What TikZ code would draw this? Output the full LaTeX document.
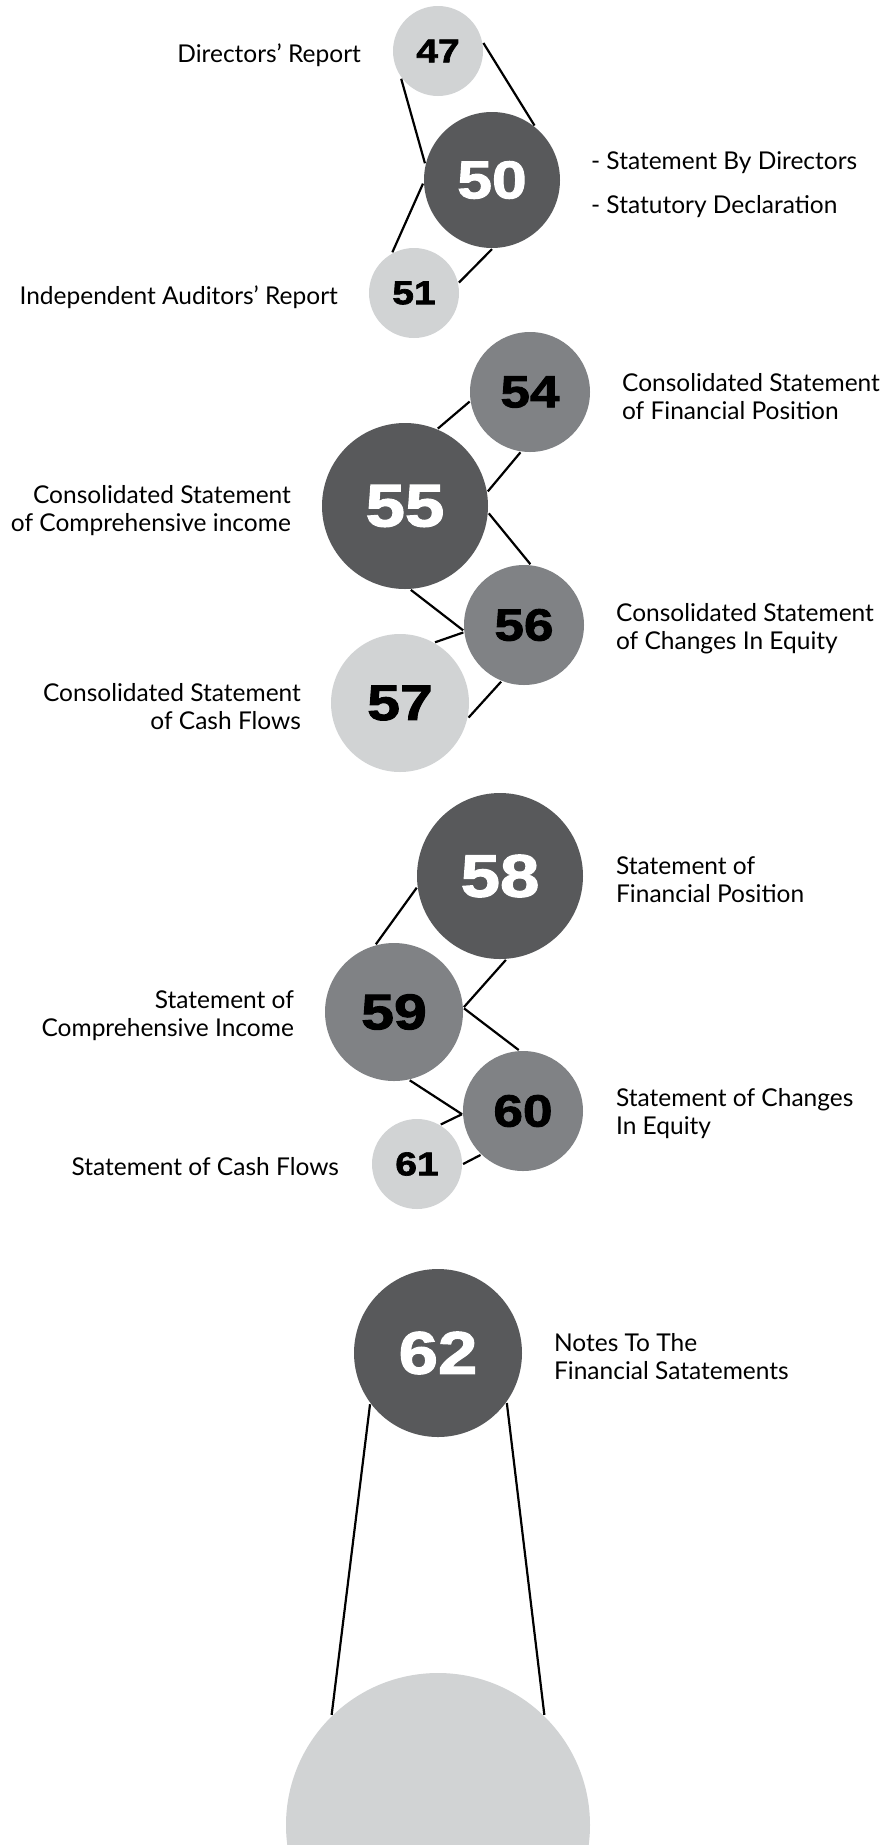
\documentclass[tikz,border=0pt]{standalone}
\usepackage{fontspec}
\setmainfont{Lato}
\newfontfamily\numfont{Liberation Sans Bold}[FakeBold=2, FakeStretch=1.18]
\usetikzlibrary{positioning}

\definecolor{discpale}{HTML}{D1D3D4}
\definecolor{discmid}{HTML}{808285}
\definecolor{discdark}{HTML}{58595B}

\begin{document}
\begin{tikzpicture}[x=1pt, y=-1pt, line width=2.2pt,
  pale/.style={circle, fill=discpale, text=black, inner sep=0pt},
  mid/.style={circle, fill=discmid, text=black, inner sep=0pt},
  dark/.style={circle, fill=discdark, text=white, inner sep=0pt},
  sz/.style={minimum size=#1pt},
  num/.style={font=\numfont\fontsize{#1}{#1}\selectfont},
  lbl/.style={inner sep=0pt, font=\fontsize{24.5}{28}\selectfont}]
\useasboundingbox (0,0) rectangle (885,1845);
\clip (0,0) rectangle (885,1845);

% discs
\node[pale, sz=90, num=33] (P47) at (438,51) {47};
\node[dark, sz=136, num=53] (P50) at (492,180) {50};
\node[pale, sz=90, num=33] (P51) at (414,293) {51};
\node[mid, sz=120, num=45] (P54) at (530,392) {54};
\node[dark, sz=166, num=60] (P55) at (405,506) {55};
\node[mid, sz=120, num=45] (P56) at (524,625) {56};
\node[pale, sz=138, num=50] (P57) at (400,703) {57};
\node[dark, sz=166, num=60] (P58) at (500,876) {58};
\node[mid, sz=138, num=50] (P59) at (394,1012) {59};
\node[mid, sz=120, num=45] (P60) at (523,1111) {60};
\node[pale, sz=90, num=33] (P61) at (417,1164) {61};
\node[dark, sz=168, num=60] (P62) at (438,1353) {62};
\node[pale, sz=304] (Pend) at (438,1825) {};

% links
\draw (P47.10) -- (P50.52);
\draw (P47.217) -- (P50.166);
\draw (P50.183) -- (P51.118);
\draw (P50.270) -- (P51.13);
\draw (P54.189) -- (P55.67);
\draw (P55.10) -- (P54.261);
\draw (P55.-5) -- (P56.84);
\draw (P55.274) -- (P56.185);
\draw (P56.187) -- (P57.60);
\draw (P56.248) -- (P57.-12);
\draw (P58.188) -- (P59.105);
\draw (P58.274) -- (P59.4);
\draw (P59.3) -- (P60.94);
\draw (P59.283) -- (P60.183);
\draw (P60.183) -- (P61.59);
\draw (P60.226) -- (P61.0);
\draw (P62.217) -- (Pend.134);
\draw (P62.324) -- (Pend.46);

% labels
\node[lbl, anchor=east] (L47) at (362,55) {Directors’ Report};
\node[lbl, anchor=west] (L50a) at (590,163) {- Statement By Directors};
\node[lbl, anchor=west] (L50b) at (590,207) {- Statutory Declaration};
\node[lbl, anchor=east] (L51) at (339,297) {Independent Auditors’ Report};
\node[lbl, anchor=west, align=left] (L54) at (621,397) {Consolidated Statement\\of Financial Position};
\node[lbl, anchor=east, align=right] (L55) at (292,511) {Consolidated Statement\\of Comprehensive income};
\node[lbl, anchor=west, align=left] (L56) at (615,629) {Consolidated Statement\\of Changes In Equity};
\node[lbl, anchor=east, align=right] (L57) at (302,707) {Consolidated Statement\\of Cash Flows};
\node[lbl, anchor=west, align=left] (L58) at (615,880) {Statement of\\Financial Position};
\node[lbl, anchor=east, align=right] (L59) at (295,1016) {Statement of\\Comprehensive Income};
\node[lbl, anchor=west, align=left] (L60) at (615,1114) {Statement of Changes\\In Equity};
\node[lbl, anchor=east] (L61) at (340,1167) {Statement of Cash Flows};
\node[lbl, anchor=west, align=left] (L62) at (553,1357) {Notes To The\\Financial Satatements};
\end{tikzpicture}
\end{document}
